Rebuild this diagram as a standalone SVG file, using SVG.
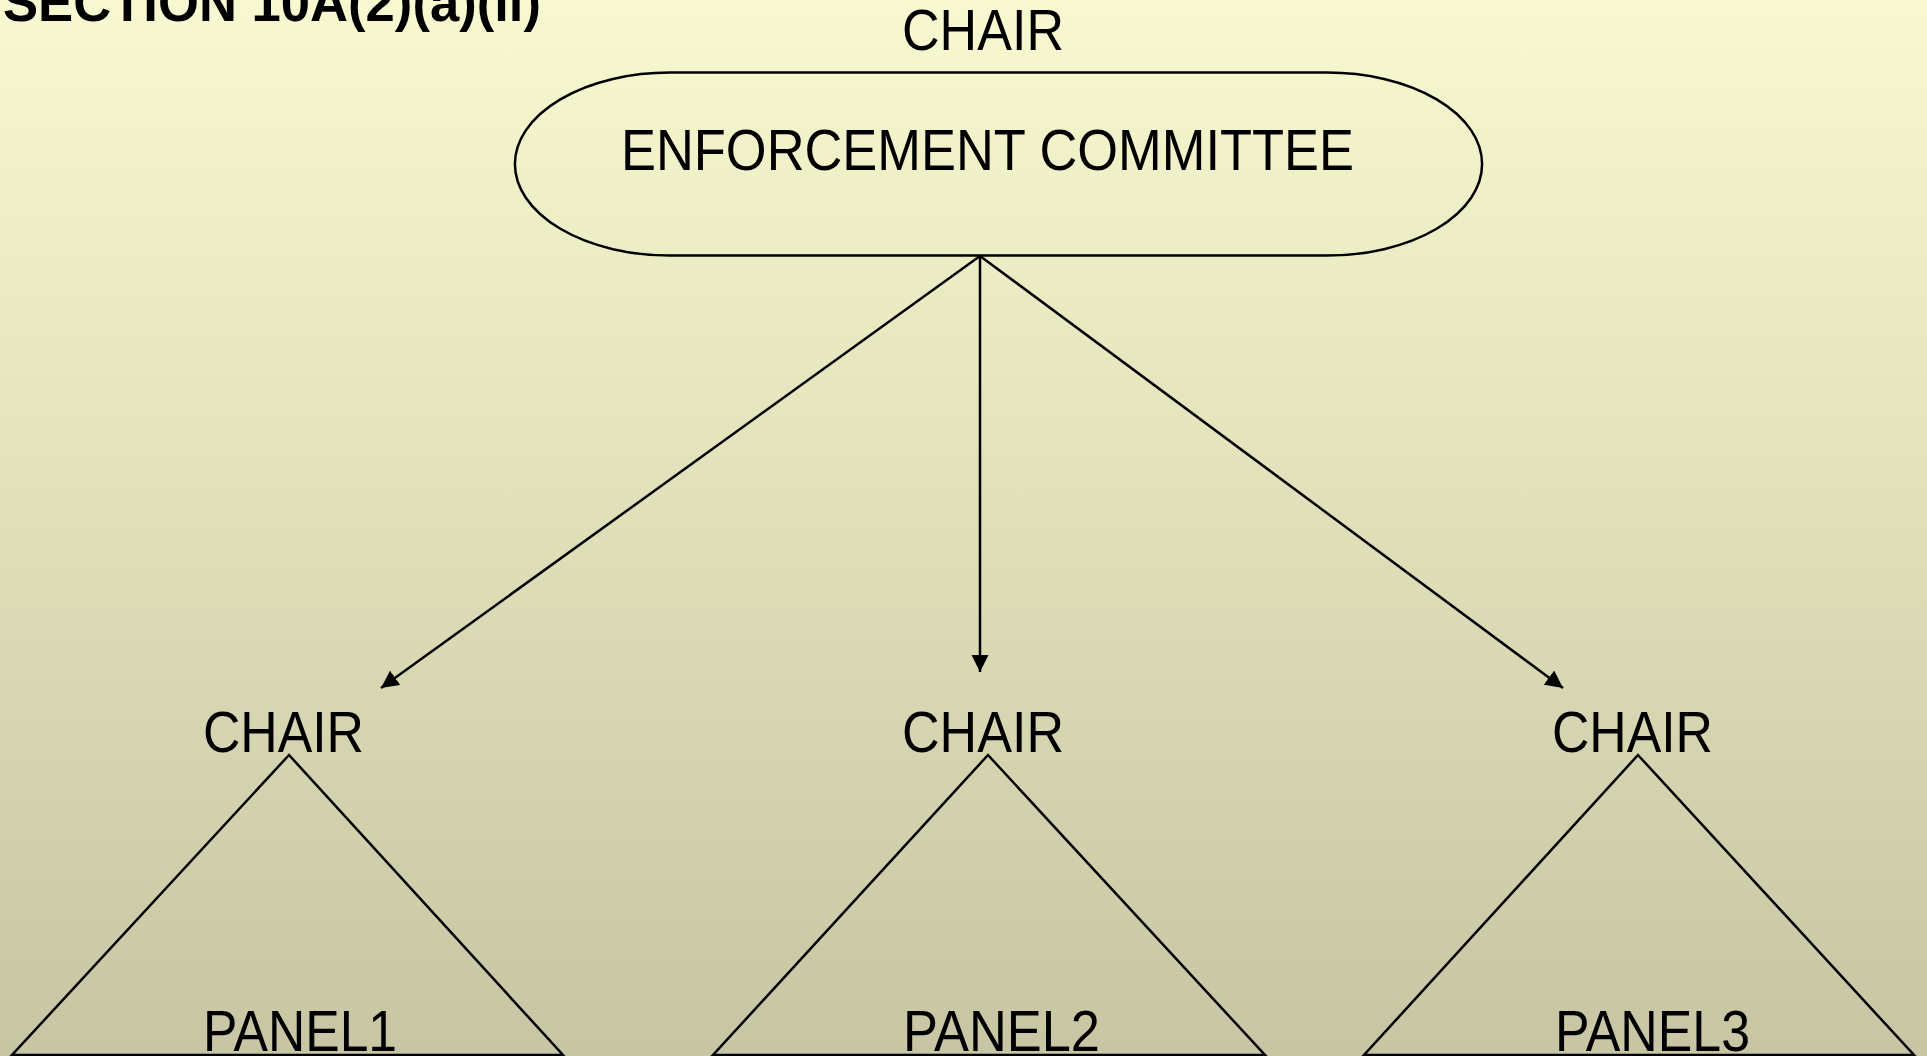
<svg xmlns="http://www.w3.org/2000/svg" width="1927" height="1056" viewBox="0 0 1927 1056">
<defs>
<linearGradient id="bg" x1="0" y1="0" x2="0" y2="1">
<stop offset="0" stop-color="#f8f9d0"/>
<stop offset="1" stop-color="#c7c5a3"/>
</linearGradient>
<marker id="arr" viewBox="0 0 10 10" refX="10" refY="5" markerWidth="7" markerHeight="7" markerUnits="strokeWidth" orient="auto">
<path d="M0,0 L10,5 L0,10 Z" fill="#000"/>
</marker>
<style>
.shape{fill:none;stroke:#000;stroke-width:2.5}
.lbl{font-family:"Liberation Sans",Arial,sans-serif;font-size:57px;fill:#000;text-anchor:start}
.title{font-family:"Liberation Sans",Arial,sans-serif;font-size:53px;font-weight:bold;fill:#000}
.conn{fill:none;stroke:#000;stroke-width:2.5;marker-end:url(#arr)}
</style>
</defs>
<rect x="0" y="0" width="1927" height="1056" fill="url(#bg)"/>
<text class="title" x="3" y="21" textLength="538" lengthAdjust="spacingAndGlyphs">SECTION 10A(2)(a)(ii)</text>

<g id="committee">
<text class="lbl" x="902" y="50" textLength="162" lengthAdjust="spacingAndGlyphs">CHAIR</text>
<path class="shape" d="M670,72.5 L1327,72.5 A155,91.5 0 0 1 1327,255.6 L670,255.6 A155,91.5 0 0 1 670,72.5 Z"/>
<text class="lbl" x="621" y="170" textLength="733" lengthAdjust="spacingAndGlyphs">ENFORCEMENT COMMITTEE</text>
</g>

<g id="panel1">
<text class="lbl" x="203" y="752" textLength="161" lengthAdjust="spacingAndGlyphs">CHAIR</text>
<polygon class="shape" points="289,755 563,1055 12,1055"/>
<text class="lbl" x="203" y="1051" textLength="194" lengthAdjust="spacingAndGlyphs">PANEL1</text>
</g>

<g id="panel2">
<text class="lbl" x="902" y="752" textLength="162" lengthAdjust="spacingAndGlyphs">CHAIR</text>
<polygon class="shape" points="988,755 1265,1055 713,1055"/>
<text class="lbl" x="903" y="1051" textLength="197" lengthAdjust="spacingAndGlyphs">PANEL2</text>
</g>

<g id="panel3">
<text class="lbl" x="1552" y="752" textLength="161" lengthAdjust="spacingAndGlyphs">CHAIR</text>
<polygon class="shape" points="1638,755 1914,1055 1364,1055"/>
<text class="lbl" x="1555" y="1051" textLength="195" lengthAdjust="spacingAndGlyphs">PANEL3</text>
</g>

<g id="connectors">
<line class="conn" x1="980" y1="256" x2="381" y2="688"/>
<line class="conn" x1="980" y1="256" x2="980" y2="672"/>
<line class="conn" x1="980" y1="256" x2="1563" y2="688"/>
</g>
</svg>
